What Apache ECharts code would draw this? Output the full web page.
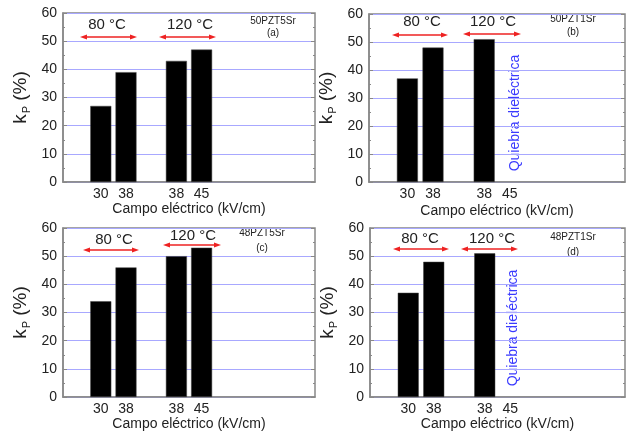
<!DOCTYPE html>
<html>
<head>
<meta charset="utf-8">
<script src="https://cdn.jsdelivr.net/npm/echarts@6/dist/echarts.min.js"></script>
<style>
  html, body { margin: 0; padding: 0; background: #fff; }
  #chart { width: 627px; height: 433px; }
</style>
</head>
<body>
<div id="chart"></div>
<script>
// Categorías del eje x (huecos vacíos para separar 80 °C y 120 °C)
var campos = ['', '30', '38', '', '38', '45', '', '', '', ''];

// kp (%) de cada muestra
var kp50PZT5Sr = [null, 27, 39, null, 43, 47, null, null, null, null];
var kp50PZT1Sr = [null, 37, 48, null, 51, null, null, null, null, null];
var kp48PZT5Sr = [null, 34, 46, null, 50, 53, null, null, null, null];
var kp48PZT1Sr = [null, 37, 48, null, 51, null, null, null, null, null];

var muestras = ['50PZT5Sr', '50PZT1Sr', '48PZT5Sr', '48PZT1Sr'];
var valores = [kp50PZT5Sr, kp50PZT1Sr, kp48PZT5Sr, kp48PZT1Sr];

var fuente = 'Liberation Sans, Arial, sans-serif';
var gris = '#888';

var grids = [
    { left: 63, top: 13, width: 252, height: 169 },
    { left: 369, top: 14, width: 256, height: 168 },
    { left: 63, top: 228, width: 252, height: 169 },
    { left: 370, top: 228, width: 255, height: 169 }
];
var nameGaps = [20, 22, 13, 19];

var myChart = echarts.init(document.getElementById('chart'));

var xAxes = [], yAxes = [], series = [];
grids.forEach(function (g, i) {
    g.show = true;
    g.borderColor = gris;
    g.borderWidth = 1.5;
    xAxes.push({
        type: 'category', gridIndex: i, data: campos,
        axisLine: { show: true, lineStyle: { color: gris, width: 1.5 } },
        axisTick: { show: false },
        axisLabel: { fontSize: 14, color: '#222', fontFamily: fuente, margin: 5, interval: 0 },
        name: 'Campo eléctrico (kV/cm)', nameLocation: 'middle', nameGap: nameGaps[i],
        nameTextStyle: { fontSize: 14, color: '#222', fontFamily: fuente }
    });
    yAxes.push({
        type: 'value', gridIndex: i, min: 0, max: 60, interval: 10, position: 'left',
        axisLine: { show: true, lineStyle: { color: gris, width: 1.5 } },
        axisTick: { show: true, inside: true, length: 4, lineStyle: { color: gris } },
        minorTick: { show: true, splitNumber: 2, length: 2, lineStyle: { color: gris } },
        axisLabel: { fontSize: 14, color: '#222', fontFamily: fuente, margin: 6 },
        splitLine: { show: true, lineStyle: { color: '#a8a8ff', width: 1 } },
        name: '{k|k}{p|P}{k| (%)}', nameLocation: 'middle', nameGap: 31,
        nameTextStyle: {
            color: '#222', fontFamily: fuente,
            rich: {
                k: { fontSize: 19, color: '#222', fontFamily: fuente },
                p: { fontSize: 11, color: '#222', fontFamily: fuente, padding: [12, 0, 0, 1] }
            }
        }
    });
    yAxes.push({
        type: 'value', gridIndex: i, min: 0, max: 60, interval: 10, position: 'right',
        axisLine: { show: false },
        axisTick: { show: true, inside: true, length: 4, lineStyle: { color: gris } },
        minorTick: { show: true, splitNumber: 2, length: 2, lineStyle: { color: gris } },
        axisLabel: { show: false },
        splitLine: { show: false }
    });
    series.push({
        name: muestras[i], type: 'bar', xAxisIndex: i, yAxisIndex: i * 2,
        data: valores[i], barWidth: 21,
        itemStyle: { color: '#000', borderColor: '#444', borderWidth: 0.5 }
    });
});

function flecha(x1, x2, y) {
    var c = '#ee2222';
    return {
        type: 'group', children: [
            { type: 'line', shape: { x1: x1 + 3, y1: y, x2: x2 - 3, y2: y }, style: { stroke: c, lineWidth: 1.5 } },
            { type: 'polygon', shape: { points: [[x1, y], [x1 + 7, y - 2.5], [x1 + 7, y + 2.5]] }, style: { fill: c } },
            { type: 'polygon', shape: { points: [[x2, y], [x2 - 7, y - 2.5], [x2 - 7, y + 2.5]] }, style: { fill: c } }
        ]
    };
}

function texto(t, x, y, size, color, rot) {
    return {
        type: 'text', x: x, y: y, rotation: rot || 0,
        style: {
            text: t, fontSize: size, fill: color || '#222', fontFamily: fuente,
            textAlign: 'center', textVerticalAlign: 'middle'
        }
    };
}

// Anotaciones de cada panel
var graficos = [
    texto('80 °C', 107, 25, 15), flecha(80, 137, 37),
    texto('120 °C', 190, 25, 15), flecha(159, 216, 37),
    texto('50PZT5Sr', 273, 21, 10), texto('(a)', 273, 33, 10),

    texto('80 °C', 422, 22, 15), flecha(392, 448, 35),
    texto('120 °C', 493, 22, 15), flecha(463, 521, 34),
    texto('50PZT1Sr', 573, 19, 10), texto('(b)', 573, 32, 10),
    texto('Quiebra dieléctrica', 515, 113, 14, '#3a3aff', Math.PI / 2),

    texto('80 °C', 114, 240, 15), flecha(83, 139, 250),
    texto('120 °C', 193, 236, 15), flecha(163, 221, 245),
    texto('48PZT5Sr', 262, 233, 10), texto('(c)', 262, 248, 10),

    texto('80 °C', 420, 239, 15), flecha(393, 449, 249),
    texto('120 °C', 492, 239, 15), flecha(461, 518, 249),
    texto('48PZT1Sr', 573, 237, 10), texto('(d)', 573, 252, 10),
    texto('Quiebra dieléctrica', 513, 328, 14, '#3a3aff', Math.PI / 2)
];

myChart.setOption({
    backgroundColor: '#fff',
    animation: false,
    grid: grids,
    xAxis: xAxes,
    yAxis: yAxes,
    series: series,
    graphic: graficos
});
</script>
</body>
</html>
